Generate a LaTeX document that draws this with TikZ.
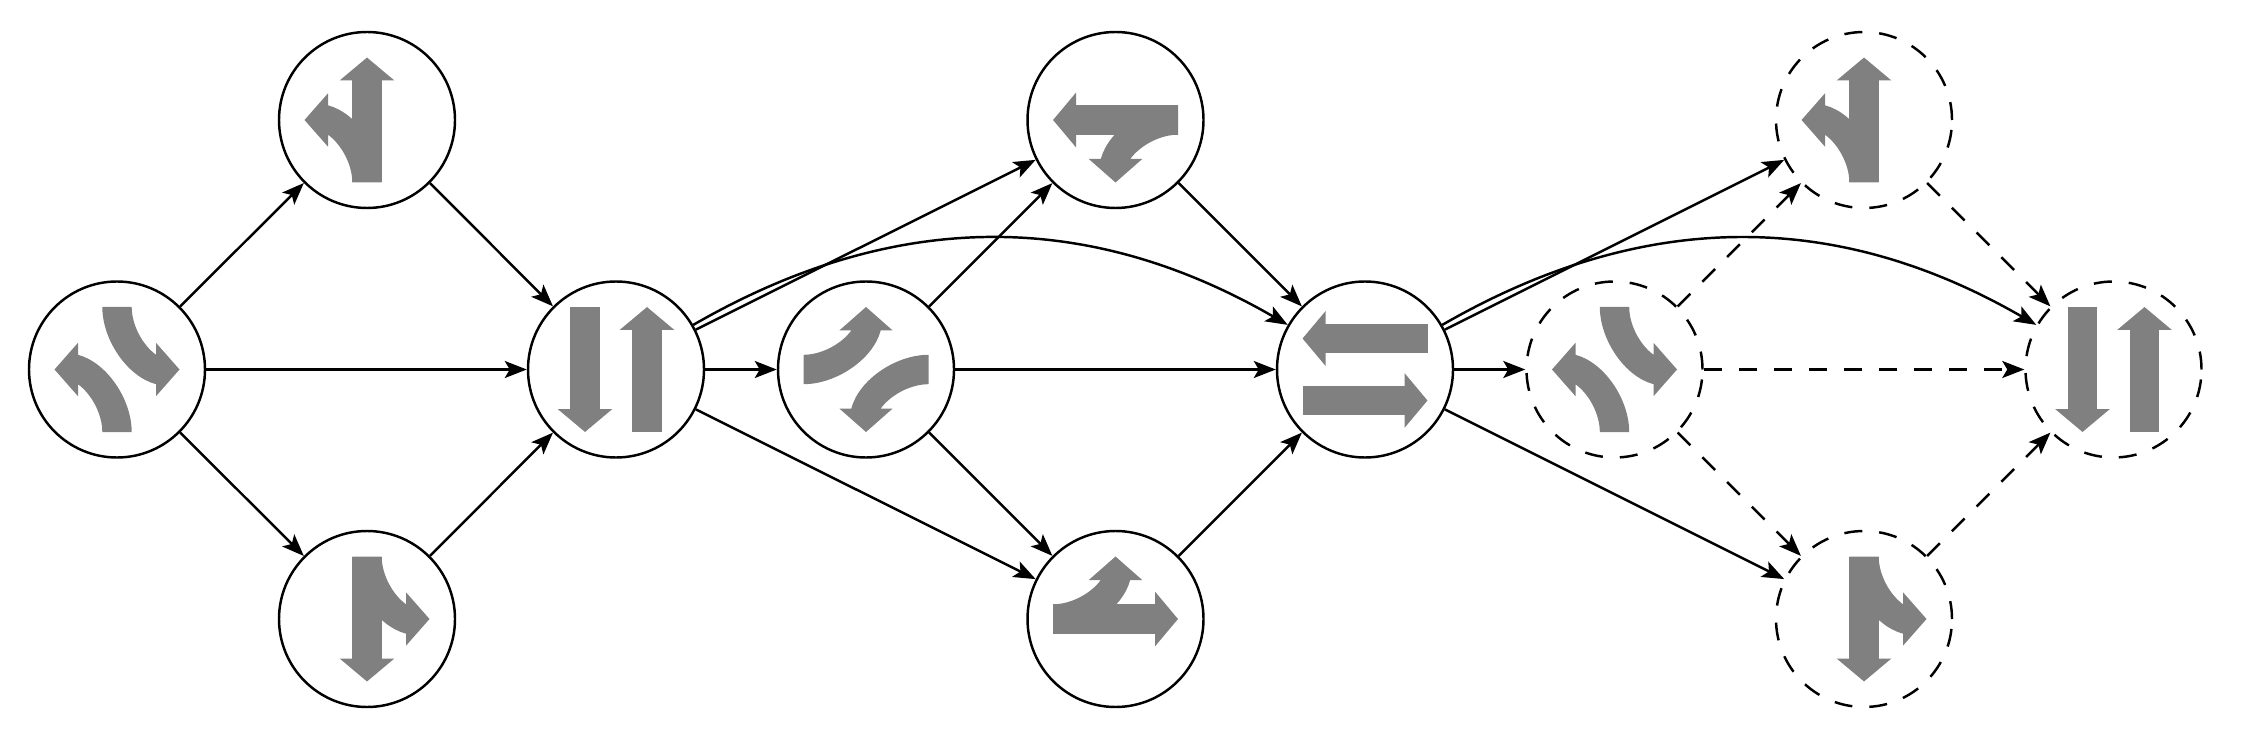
\documentclass[tikz,border=0pt]{standalone}
\usetikzlibrary{arrows.meta}

\definecolor{lanegray}{RGB}{128,128,128}

% outline of a lane turning from the bottom to the left
\newcommand{\turnoutline}{(0.147,-0.625) .. controls (0.147,-0.3) and (-0.1,0.07) .. (-0.39,0.147)
  -- (-0.39,0.267) -- (-0.625,0) -- (-0.39,-0.267) -- (-0.39,-0.147)
  .. controls (-0.25,-0.25) and (-0.147,-0.45) .. (-0.147,-0.625) -- cycle}

\tikzset{
  junction/.style={circle,draw,line width=0.7pt,minimum size=1.76cm,inner sep=0pt},
  future/.style={dash pattern=on 0.18cm off 0.17cm},
  flow/.style={line width=0.7pt,-{Stealth[length=0.22cm,width=0.17cm,inset=0.05cm]}},
  lanetip/.style={draw=lanegray,line width=0.293cm,-{Triangle[length=0.23cm,width=0.535cm,fill=lanegray,color=lanegray]}},
  turned/.style={rotate=#1,transform shape},
  bothturns/.pic={
    \fill[lanegray] \turnoutline;
    \fill[lanegray,rotate=180] \turnoutline;
  },
  splitlane/.pic={
    \draw[lanetip] (0,-0.625) -- (0,0.625);
    \fill[lanegray] \turnoutline;
  },
  twolanes/.pic={
    \draw[lanetip] (0.31,-0.625) -- (0.31,0.625);
    \draw[lanetip] (-0.31,0.625) -- (-0.31,-0.625);
  },
}

\begin{document}
\begin{tikzpicture}
\useasboundingbox (0,0) rectangle (22.46,7.30);

% junctions, solid
\node[junction] (a) at (1.17,3.605) {};
\node[junction] (b1) at (3.67,6.10) {};
\node[junction] (b2) at (3.67,1.11) {};
\node[junction] (c) at (6.16,3.605) {};
\node[junction] (d) at (8.66,3.605) {};
\node[junction] (e1) at (11.155,6.10) {};
\node[junction] (e2) at (11.155,1.11) {};
\node[junction] (f) at (13.65,3.605) {};

% junctions, dashed
\node[junction,future] (g) at (16.145,3.605) {};
\node[junction,future] (h1) at (18.64,6.10) {};
\node[junction,future] (h2) at (18.64,1.11) {};
\node[junction,future] (i) at (21.135,3.605) {};

% lanes inside the junctions
\pic at (a) {bothturns};
\pic at (b1) {splitlane};
\pic[turned=180] at (b2) {splitlane};
\pic at (c) {twolanes};
\pic[turned=-90] at (d) {bothturns};
\pic[turned=90] at (e1) {splitlane};
\pic[turned=-90] at (e2) {splitlane};
\pic[turned=90] at (f) {twolanes};
\pic at (g) {bothturns};
\pic at (h1) {splitlane};
\pic[turned=180] at (h2) {splitlane};
\pic at (i) {twolanes};

% solid connectors
\draw[flow] (a) -- (b1);
\draw[flow] (a) -- (c);
\draw[flow] (a) -- (b2);
\draw[flow] (b1) -- (c);
\draw[flow] (b2) -- (c);

\draw[flow] (c) -- (d);
\draw[flow] (c) -- (e1);
\draw[flow] (c) -- (e2);
\draw[flow] (c) to[bend left=30] (f);
\draw[flow] (d) -- (e1);
\draw[flow] (d) -- (f);
\draw[flow] (d) -- (e2);
\draw[flow] (e1) -- (f);
\draw[flow] (e2) -- (f);

\draw[flow] (f) -- (g);
\draw[flow] (f) -- (h1);
\draw[flow] (f) -- (h2);
\draw[flow] (f) to[bend left=30] (i);

% dashed connectors
\draw[flow,future] (g) -- (h1);
\draw[flow,future] (g) -- (i);
\draw[flow,future] (g) -- (h2);
\draw[flow,future] (h1) -- (i);
\draw[flow,future] (h2) -- (i);
\end{tikzpicture}
\end{document}
